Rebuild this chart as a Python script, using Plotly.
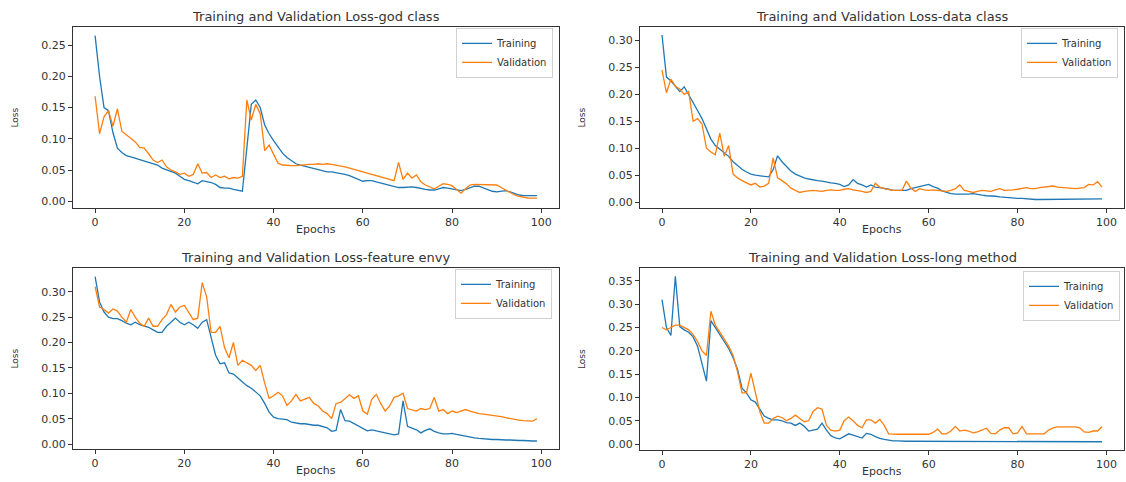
import plotly.graph_objects as go

epochs = list(range(100))

gc_train = [0.265,0.200,0.150,0.145,0.110,0.085,0.078,0.073,0.071,0.069,
            0.067,0.064,0.062,0.061,0.058,0.053,0.050,0.048,0.045,0.040,
            0.035,0.033,0.030,0.028,0.033,0.032,0.030,0.027,0.022,0.021,
            0.021,0.019,0.017,0.016,0.085,0.155,0.162,0.150,0.122,0.108,
            0.097,0.087,0.077,0.070,0.065,0.060,0.058,0.056,0.054,0.052,
            0.051,0.049,0.047,0.047,0.046,0.045,0.043,0.041,0.038,0.034,
            0.032,0.033,0.033,0.031,0.029,0.028,0.026,0.024,0.022,0.022,
            0.023,0.023,0.022,0.020,0.019,0.018,0.018,0.020,0.022,0.021,
            0.020,0.018,0.017,0.019,0.021,0.024,0.024,0.021,0.018,0.016,
            0.015,0.016,0.017,0.015,0.012,0.010,0.009,0.009,0.009,0.009]
gc_val = [0.168,0.108,0.135,0.145,0.120,0.148,0.112,0.106,0.101,0.095,
          0.086,0.085,0.076,0.066,0.062,0.066,0.055,0.050,0.047,0.043,
          0.045,0.040,0.043,0.060,0.045,0.046,0.038,0.042,0.038,0.040,
          0.036,0.038,0.037,0.040,0.162,0.130,0.155,0.140,0.081,0.090,
          0.075,0.061,0.058,0.057,0.057,0.057,0.058,0.058,0.059,0.059,
          0.060,0.059,0.060,0.059,0.058,0.057,0.055,0.053,0.051,0.049,
          0.047,0.046,0.044,0.042,0.040,0.037,0.035,0.033,0.062,0.035,
          0.045,0.037,0.042,0.031,0.026,0.023,0.020,0.024,0.028,0.027,
          0.025,0.019,0.013,0.020,0.026,0.027,0.027,0.027,0.027,0.027,
          0.026,0.022,0.018,0.014,0.010,0.008,0.006,0.005,0.005,0.005]

dc_train = [0.310,0.232,0.225,0.215,0.205,0.214,0.200,0.185,0.170,0.155,
            0.135,0.117,0.105,0.098,0.091,0.085,0.075,0.068,0.061,0.056,
            0.052,0.050,0.049,0.048,0.047,0.060,0.086,0.075,0.066,0.058,
            0.052,0.048,0.045,0.043,0.041,0.040,0.039,0.037,0.036,0.035,
            0.033,0.029,0.032,0.042,0.035,0.032,0.028,0.032,0.028,0.027,
            0.026,0.024,0.022,0.022,0.022,0.022,0.025,0.027,0.028,0.030,
            0.033,0.029,0.026,0.021,0.018,0.016,0.015,0.015,0.014,0.015,
            0.016,0.014,0.013,0.012,0.012,0.011,0.010,0.009,0.008,0.008,
            0.007,0.007,0.006,0.006,0.005,0.005,0.005,0.005,0.005,0.005,
            0.005,0.005,0.005,0.006,0.006,0.006,0.006,0.006,0.006,0.006]
dc_val = [0.245,0.203,0.228,0.215,0.210,0.200,0.205,0.150,0.155,0.145,
          0.100,0.093,0.088,0.128,0.085,0.105,0.052,0.045,0.040,0.036,
          0.032,0.035,0.028,0.030,0.035,0.082,0.045,0.040,0.034,0.026,
          0.022,0.018,0.020,0.021,0.022,0.021,0.020,0.022,0.023,0.022,
          0.022,0.024,0.025,0.023,0.022,0.020,0.018,0.020,0.035,0.028,
          0.025,0.023,0.022,0.022,0.022,0.039,0.026,0.020,0.025,0.023,
          0.022,0.023,0.022,0.021,0.020,0.022,0.025,0.032,0.022,0.020,
          0.018,0.020,0.022,0.021,0.020,0.023,0.025,0.022,0.022,0.023,
          0.024,0.026,0.027,0.025,0.025,0.027,0.028,0.029,0.030,0.028,
          0.027,0.026,0.025,0.025,0.026,0.027,0.033,0.032,0.038,0.028]

fe_train = [0.330,0.280,0.260,0.250,0.247,0.247,0.243,0.238,0.235,0.240,
            0.235,0.232,0.230,0.225,0.220,0.220,0.232,0.240,0.248,0.240,
            0.235,0.240,0.235,0.228,0.240,0.245,0.210,0.175,0.158,0.160,
            0.140,0.138,0.130,0.122,0.115,0.110,0.103,0.095,0.080,0.063,
            0.053,0.050,0.049,0.048,0.043,0.041,0.040,0.040,0.038,0.037,
            0.037,0.034,0.032,0.025,0.027,0.068,0.046,0.045,0.040,0.035,
            0.030,0.026,0.028,0.026,0.025,0.022,0.020,0.018,0.020,0.085,
            0.035,0.032,0.028,0.022,0.027,0.030,0.025,0.022,0.020,0.020,
            0.021,0.019,0.017,0.015,0.013,0.012,0.011,0.010,0.010,0.009,
            0.009,0.008,0.008,0.008,0.007,0.007,0.007,0.006,0.006,0.006]
fe_val = [0.310,0.270,0.265,0.258,0.266,0.262,0.250,0.240,0.265,0.250,
          0.238,0.232,0.248,0.232,0.232,0.245,0.255,0.275,0.260,0.270,
          0.273,0.260,0.245,0.248,0.318,0.290,0.220,0.220,0.232,0.190,
          0.170,0.200,0.155,0.165,0.160,0.155,0.145,0.155,0.120,0.090,
          0.095,0.102,0.095,0.076,0.085,0.098,0.085,0.088,0.092,0.080,
          0.075,0.065,0.060,0.050,0.080,0.082,0.090,0.097,0.090,0.095,
          0.065,0.059,0.088,0.098,0.080,0.065,0.075,0.092,0.095,0.100,
          0.070,0.068,0.065,0.070,0.068,0.070,0.092,0.065,0.068,0.060,
          0.065,0.062,0.065,0.068,0.065,0.062,0.060,0.059,0.058,0.057,
          0.056,0.054,0.052,0.050,0.048,0.047,0.046,0.046,0.045,0.050]

lm_train = [0.310,0.250,0.233,0.360,0.252,0.245,0.240,0.230,0.210,0.170,
            0.135,0.265,0.250,0.235,0.220,0.205,0.185,0.160,0.120,0.110,
            0.095,0.090,0.075,0.060,0.055,0.052,0.052,0.050,0.046,0.045,
            0.040,0.045,0.038,0.028,0.030,0.032,0.045,0.030,0.018,0.013,
            0.011,0.016,0.022,0.019,0.016,0.013,0.023,0.021,0.016,0.012,
            0.010,0.008,0.007,0.007,0.006,0.006,0.006,0.006,0.006,0.006,
            0.006,0.006,0.006,0.006,0.006,0.006,0.006,0.006,0.006,0.005,
            0.005,0.005,0.005,0.005,0.005,0.005,0.005,0.005,0.005,0.005,
            0.005,0.005,0.005,0.005,0.005,0.005,0.005,0.005,0.005,0.005,
            0.005,0.005,0.005,0.005,0.005,0.005,0.005,0.005,0.005,0.005]
lm_val = [0.250,0.245,0.250,0.255,0.255,0.250,0.245,0.235,0.220,0.200,
          0.190,0.285,0.255,0.240,0.225,0.210,0.190,0.155,0.110,0.110,
          0.152,0.110,0.070,0.045,0.045,0.055,0.060,0.057,0.050,0.055,
          0.062,0.055,0.048,0.050,0.070,0.078,0.075,0.040,0.030,0.028,
          0.030,0.050,0.058,0.050,0.040,0.035,0.052,0.052,0.045,0.053,
          0.040,0.022,0.021,0.021,0.021,0.021,0.021,0.021,0.021,0.021,
          0.021,0.025,0.032,0.022,0.022,0.028,0.038,0.028,0.030,0.028,
          0.024,0.026,0.030,0.034,0.023,0.022,0.030,0.035,0.035,0.022,
          0.024,0.038,0.022,0.022,0.022,0.022,0.022,0.030,0.035,0.037,
          0.037,0.037,0.037,0.037,0.035,0.026,0.025,0.028,0.028,0.037]

titles = ["Training and Validation Loss-god class",
          "Training and Validation Loss-data class",
          "Training and Validation Loss-feature envy",
          "Training and Validation Loss-long method"]
series = [(gc_train, gc_val), (dc_train, dc_val), (fe_train, fe_val), (lm_train, lm_val)]

W, H = 1126, 482
# pixel boxes of plot areas: (left, right, top, bottom)
boxes = [(73, 559, 27, 209), (640, 1124, 27, 209), (73, 559, 269, 451), (640, 1124, 269, 452)]
yranges = [[-0.011, 0.279], [-0.011, 0.325], [-0.010, 0.347], [-0.013, 0.378]]
legend_pos = [(553, 28), (1118, 28), (552, 270), (1120, 272)]

BLUE = "#1f77b4"
ORANGE = "#ff7f0e"
FONT = "DejaVu Sans"
TXT = "#333333"

fig = go.Figure()
layout = dict(width=W, height=H, margin=dict(l=0, r=0, t=0, b=0),
              paper_bgcolor="white", plot_bgcolor="white",
              font=dict(family=FONT, color=TXT, size=11), annotations=[])

for i, ((tr, va), title, (l, r, t, b), yr, (lx, ly)) in enumerate(
        zip(series, titles, boxes, yranges, legend_pos)):
    n = i + 1
    xa = "x" if n == 1 else f"x{n}"
    ya = "y" if n == 1 else f"y{n}"
    lg = "legend" if n == 1 else f"legend{n}"
    fig.add_trace(go.Scatter(x=epochs, y=tr, mode="lines", name="Training",
                             line=dict(color=BLUE, width=1.3), xaxis=xa, yaxis=ya, legend=lg))
    fig.add_trace(go.Scatter(x=epochs, y=va, mode="lines", name="Validation",
                             line=dict(color=ORANGE, width=1.3), xaxis=xa, yaxis=ya, legend=lg))
    axcommon = dict(showline=True, linecolor="#333333", linewidth=1, mirror=True,
                    showgrid=False, zeroline=False, ticks="outside", ticklen=4,
                    tickcolor="#333333", tickfont=dict(family=FONT, size=11, color=TXT))
    layout["xaxis" if n == 1 else f"xaxis{n}"] = dict(
        domain=[l / W, r / W], range=[-4.95, 103.95], dtick=20, tick0=0,
        anchor=ya, **axcommon)
    layout["yaxis" if n == 1 else f"yaxis{n}"] = dict(
        domain=[1 - b / H, 1 - t / H], range=yr, dtick=0.05, tick0=0,
        tickformat=".2f", anchor=xa, **axcommon)
    layout[lg] = dict(x=lx / W, y=1 - ly / H, xanchor="right", yanchor="top",
                      bgcolor="rgba(255,255,255,0.85)", bordercolor="#d0d0d0",
                      borderwidth=1, font=dict(family=FONT, size=10, color=TXT),
                      tracegroupgap=0, itemwidth=30)
    cx = (l + r) / 2
    layout["annotations"].append(dict(text=title, x=cx / W, y=1 - (t - 10) / H,
                                      xref="paper", yref="paper", showarrow=False,
                                      xanchor="center", yanchor="middle",
                                      font=dict(family=FONT, size=13, color=TXT)))
    layout["annotations"].append(dict(text="Epochs", x=cx / W, y=1 - (b + 21) / H,
                                      xref="paper", yref="paper", showarrow=False,
                                      xanchor="center", yanchor="middle",
                                      font=dict(family=FONT, size=11, color=TXT)))
    layout["annotations"].append(dict(text="Loss", x=(l - 58) / W, y=1 - (t + b) / 2 / H,
                                      xref="paper", yref="paper", showarrow=False,
                                      textangle=-90, xanchor="center", yanchor="middle",
                                      font=dict(family=FONT, size=9, color=TXT)))

fig.update_layout(**layout)
fig.write_html("out.html")
